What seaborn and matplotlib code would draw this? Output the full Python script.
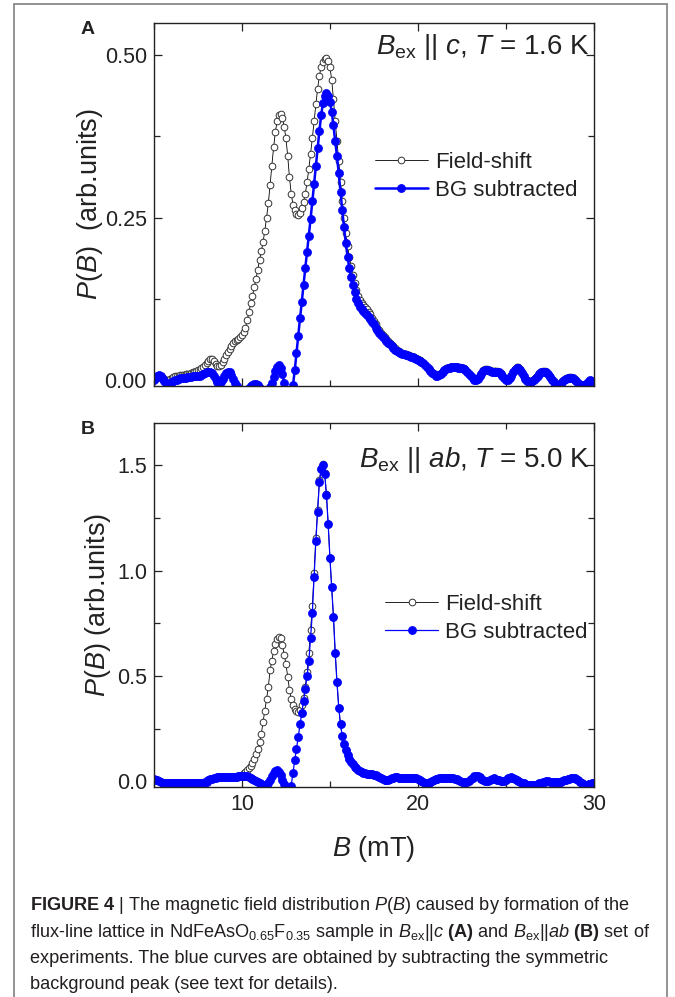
#!/usr/bin/env python
"""Field distribution P(B) in NdFeAsO0.65F0.35: field-shift vs BG-subtracted curves."""

import matplotlib

matplotlib.use("Agg")

import matplotlib.pyplot as plt
import numpy as np
import seaborn as sns
from matplotlib.lines import Line2D
from matplotlib.ticker import FormatStrFormatter, MultipleLocator

# field grid in mT, 0.1 mT steps from 5 to 30
B_MT = np.linspace(5.0, 30.0, 251)

# panel A: B_ex || c, T = 1.6 K
FS_A = [
    0.002, 0.004, 0.006, 0.007, 0.006, 0.004, 0.002, 0.001, 0.001, 0.002,
    0.004, 0.005, 0.006, 0.007, 0.007, 0.008, 0.008, 0.008, 0.009, 0.009,
    0.010, 0.011, 0.012, 0.013, 0.014, 0.015, 0.016, 0.018, 0.021, 0.024,
    0.027, 0.030, 0.032, 0.032, 0.029, 0.025, 0.022, 0.022, 0.024, 0.028,
    0.033, 0.038, 0.043, 0.048, 0.053, 0.057, 0.060, 0.062, 0.064, 0.066,
    0.069, 0.074, 0.081, 0.092, 0.105, 0.118, 0.130, 0.143, 0.156, 0.170,
    0.185, 0.198, 0.212, 0.230, 0.250, 0.272, 0.300, 0.330, 0.358, 0.382,
    0.398, 0.407, 0.409, 0.403, 0.390, 0.372, 0.345, 0.312, 0.287, 0.270,
    0.261, 0.256, 0.254, 0.257, 0.264, 0.274, 0.287, 0.304, 0.325, 0.348,
    0.372, 0.398, 0.424, 0.448, 0.468, 0.482, 0.490, 0.494, 0.495, 0.491,
    0.481, 0.462, 0.432, 0.398, 0.368, 0.337, 0.305, 0.276, 0.250, 0.226,
    0.206, 0.190, 0.176, 0.162, 0.150, 0.139, 0.130, 0.123, 0.118, 0.115,
    0.112, 0.109, 0.105, 0.101, 0.096, 0.091, 0.086, 0.081, 0.077, 0.073,
    0.069, 0.066, 0.063, 0.060, 0.057, 0.054, 0.052, 0.049, 0.047, 0.045,
    0.044, 0.042, 0.041, 0.040, 0.039, 0.038, 0.037, 0.036, 0.035, 0.034,
    0.032, 0.031, 0.029, 0.027, 0.024, 0.021, 0.018, 0.015, 0.012, 0.010,
    0.008, 0.008, 0.009, 0.011, 0.014, 0.016, 0.018, 0.019, 0.020, 0.021,
    0.021, 0.021, 0.021, 0.020, 0.020, 0.019, 0.018, 0.016, 0.013, 0.010,
    0.007, 0.004, 0.002, 0.001, 0.003, 0.007, 0.011, 0.015, 0.017, 0.017,
    0.016, 0.015, 0.014, 0.014, 0.014, 0.014, 0.013, 0.011, 0.008, 0.004,
    0.001, 0.001, 0.004, 0.008, 0.013, 0.017, 0.020, 0.020, 0.017, 0.012,
    0.007, 0.003, 0.000, -0.002, -0.002, -0.001, 0.002, 0.005, 0.008, 0.011,
    0.013, 0.014, 0.014, 0.013, 0.010, 0.006, 0.002, -0.002, -0.005, -0.006,
    -0.006, -0.005, -0.002, 0.001, 0.003, 0.004, 0.005, 0.005, 0.004, 0.002,
    -0.001, -0.004, -0.006, -0.008, -0.008, -0.007, -0.004, -0.002, 0.000, -0.002,
    -0.004,
]
BG_A = [
    0.000, 0.004, 0.007, 0.008, 0.006, 0.002, -0.002, -0.005, -0.006, -0.005,
    -0.003, -0.001, 0.000, 0.001, 0.002, 0.003, 0.004, 0.004, 0.004, 0.005,
    0.005, 0.005, 0.006, 0.006, 0.006, 0.007, 0.007, 0.008, 0.010, 0.011,
    0.012, 0.013, 0.013, 0.011, 0.007, 0.002, -0.003, -0.005, -0.003, 0.002,
    0.007, 0.011, 0.013, 0.012, 0.008, 0.002, -0.004, -0.009, -0.013, -0.016,
    -0.018, -0.018, -0.017, -0.015, -0.012, -0.009, -0.007, -0.006, -0.006, -0.008,
    -0.012, -0.016, -0.019, -0.020, -0.019, -0.016, -0.011, -0.004, 0.005, 0.014,
    0.021, 0.023, 0.019, 0.009, -0.004, -0.017, -0.026, -0.029, -0.024, -0.008,
    0.015, 0.042, 0.068, 0.095, 0.120, 0.147, 0.172, 0.197, 0.222, 0.248,
    0.275, 0.302, 0.330, 0.357, 0.383, 0.407, 0.426, 0.437, 0.441, 0.437,
    0.428, 0.413, 0.392, 0.367, 0.345, 0.318, 0.290, 0.261, 0.235, 0.211,
    0.190, 0.172, 0.158, 0.146, 0.135, 0.125, 0.118, 0.113, 0.109, 0.106,
    0.103, 0.100, 0.097, 0.094, 0.090, 0.086, 0.081, 0.077, 0.073, 0.069,
    0.066, 0.063, 0.060, 0.057, 0.055, 0.052, 0.050, 0.047, 0.045, 0.043,
    0.042, 0.041, 0.040, 0.039, 0.038, 0.037, 0.036, 0.035, 0.034, 0.033,
    0.031, 0.030, 0.028, 0.026, 0.023, 0.020, 0.017, 0.014, 0.011, 0.009,
    0.007, 0.007, 0.008, 0.010, 0.013, 0.015, 0.017, 0.018, 0.019, 0.020,
    0.020, 0.020, 0.020, 0.019, 0.019, 0.018, 0.017, 0.015, 0.012, 0.009,
    0.006, 0.003, 0.001, 0.000, 0.002, 0.006, 0.010, 0.014, 0.016, 0.016,
    0.015, 0.014, 0.013, 0.013, 0.013, 0.013, 0.012, 0.010, 0.007, 0.003,
    0.000, 0.000, 0.003, 0.007, 0.012, 0.016, 0.019, 0.019, 0.016, 0.011,
    0.006, 0.002, -0.001, -0.003, -0.003, -0.002, 0.001, 0.004, 0.007, 0.010,
    0.012, 0.013, 0.013, 0.012, 0.009, 0.005, 0.001, -0.003, -0.006, -0.007,
    -0.007, -0.006, -0.003, 0.000, 0.002, 0.003, 0.004, 0.004, 0.003, 0.001,
    -0.002, -0.005, -0.007, -0.008, -0.008, -0.007, -0.004, -0.002, 0.000, -0.002,
    -0.004,
]

# panel B: B_ex || ab, T = 5.0 K
FS_B = [
    0.010, 0.008, 0.005, 0.002, -0.002, -0.006, -0.009, -0.010, -0.010, -0.010,
    -0.010, -0.010, -0.010, -0.010, -0.010, -0.010, -0.010, -0.010, -0.010, -0.010,
    -0.010, -0.010, -0.010, -0.010, -0.010, -0.010, -0.010, -0.010, -0.008, -0.005,
    -0.001, 0.004, 0.009, 0.013, 0.016, 0.018, 0.019, 0.019, 0.019, 0.019,
    0.019, 0.019, 0.019, 0.019, 0.019, 0.019, 0.020, 0.021, 0.024, 0.027,
    0.032, 0.038, 0.045, 0.053, 0.062, 0.074, 0.088, 0.106, 0.128, 0.155,
    0.185, 0.225, 0.280, 0.335, 0.390, 0.448, 0.527, 0.572, 0.618, 0.652,
    0.675, 0.685, 0.678, 0.648, 0.600, 0.558, 0.497, 0.435, 0.390, 0.362,
    0.345, 0.332, 0.330, 0.337, 0.360, 0.395, 0.450, 0.520, 0.610, 0.720,
    0.830, 0.990, 1.155, 1.290, 1.430, 1.485, 1.505, 1.465, 1.365, 1.222,
    1.060, 0.920, 0.780, 0.610, 0.470, 0.350, 0.270, 0.215, 0.175, 0.148,
    0.127, 0.108, 0.093, 0.081, 0.070, 0.061, 0.054, 0.048, 0.044, 0.040,
    0.038, 0.036, 0.035, 0.034, 0.033, 0.032, 0.030, 0.027, 0.022, 0.015,
    0.010, 0.006, 0.005, 0.007, 0.011, 0.015, 0.018, 0.019, 0.019, 0.018,
    0.017, 0.016, 0.016, 0.015, 0.015, 0.015, 0.015, 0.015, 0.014, 0.014,
    0.012, 0.008, 0.002, -0.004, -0.008, -0.010, -0.008, -0.004, 0.002, 0.007,
    0.011, 0.013, 0.015, 0.015, 0.015, 0.015, 0.014, 0.014, 0.015, 0.015,
    0.014, 0.012, 0.009, 0.005, 0.001, -0.002, -0.004, -0.004, -0.002, 0.003,
    0.010, 0.018, 0.024, 0.027, 0.025, 0.019, 0.011, 0.004, 0.000, 0.000,
    0.003, 0.008, 0.012, 0.014, 0.012, 0.008, 0.004, 0.001, 0.000, 0.002,
    0.008, 0.014, 0.018, 0.019, 0.016, 0.011, 0.005, 0.001, -0.003, -0.006,
    -0.009, -0.012, -0.015, -0.017, -0.018, -0.018, -0.017, -0.015, -0.012, -0.009,
    -0.006, -0.003, -0.001, 0.000, 0.000, -0.001, -0.002, -0.003, -0.004, -0.004,
    -0.003, -0.001, 0.002, 0.005, 0.008, 0.011, 0.013, 0.015, 0.016, 0.015,
    0.011, 0.005, -0.002, -0.009, -0.014, -0.016, -0.016, -0.014, -0.012, -0.010,
    -0.009,
]
BG_B = [
    0.010, 0.008, 0.005, 0.002, -0.002, -0.006, -0.009, -0.010, -0.010, -0.010,
    -0.010, -0.010, -0.010, -0.010, -0.010, -0.010, -0.010, -0.010, -0.010, -0.010,
    -0.010, -0.010, -0.010, -0.010, -0.010, -0.010, -0.010, -0.010, -0.008, -0.005,
    -0.001, 0.004, 0.009, 0.013, 0.016, 0.018, 0.019, 0.019, 0.019, 0.019,
    0.019, 0.019, 0.019, 0.019, 0.019, 0.019, 0.020, 0.021, 0.023, 0.024,
    0.025, 0.026, 0.026, 0.025, 0.022, 0.018, 0.013, 0.008, 0.003, -0.002,
    -0.007, -0.012, -0.016, -0.017, -0.014, -0.006, 0.008, 0.024, 0.039, 0.049,
    0.052, 0.046, 0.030, 0.008, -0.014, -0.032, -0.045, -0.048, -0.020, 0.040,
    0.100, 0.155, 0.210, 0.270, 0.325, 0.380, 0.440, 0.500, 0.570, 0.680,
    0.800, 0.970, 1.140, 1.280, 1.420, 1.480, 1.500, 1.460, 1.360, 1.220,
    1.060, 0.920, 0.780, 0.610, 0.470, 0.350, 0.270, 0.215, 0.175, 0.148,
    0.127, 0.108, 0.093, 0.081, 0.070, 0.061, 0.054, 0.048, 0.044, 0.040,
    0.038, 0.036, 0.035, 0.034, 0.033, 0.032, 0.030, 0.027, 0.022, 0.015,
    0.010, 0.006, 0.005, 0.007, 0.011, 0.015, 0.018, 0.019, 0.019, 0.018,
    0.017, 0.016, 0.016, 0.015, 0.015, 0.015, 0.015, 0.015, 0.014, 0.014,
    0.012, 0.008, 0.002, -0.004, -0.008, -0.010, -0.008, -0.004, 0.002, 0.007,
    0.011, 0.013, 0.015, 0.015, 0.015, 0.015, 0.014, 0.014, 0.015, 0.015,
    0.014, 0.012, 0.009, 0.005, 0.001, -0.002, -0.004, -0.004, -0.002, 0.003,
    0.010, 0.018, 0.024, 0.027, 0.025, 0.019, 0.011, 0.004, 0.000, 0.000,
    0.003, 0.008, 0.012, 0.014, 0.012, 0.008, 0.004, 0.001, 0.000, 0.002,
    0.008, 0.014, 0.018, 0.019, 0.016, 0.011, 0.005, 0.001, -0.003, -0.006,
    -0.009, -0.012, -0.015, -0.017, -0.018, -0.018, -0.017, -0.015, -0.012, -0.009,
    -0.006, -0.003, -0.001, 0.000, 0.000, -0.001, -0.002, -0.003, -0.004, -0.004,
    -0.003, -0.001, 0.002, 0.005, 0.008, 0.011, 0.013, 0.015, 0.016, 0.015,
    0.011, 0.005, -0.002, -0.009, -0.014, -0.016, -0.016, -0.014, -0.012, -0.010,
    -0.009,
]

LABEL_FS = "Field-shift"
LABEL_BG = "BG subtracted"
NOTE_A = r"$B_{\rm ex}$ || $c$, $T$ = 1.6 K"
NOTE_B = r"$B_{\rm ex}$ || $ab$, $T$ = 5.0 K"
CAPTION = [
    r"$\bf{FIGURE\ 4}$ | The magnetic field distribution $P$($B$) caused by formation of the",
    r"flux-line lattice in NdFeAsO$_{0.65}$F$_{0.35}$ sample in $B_{\rm ex}$||$c$ $\bf{(A)}$ and "
    r"$B_{\rm ex}$||$ab$ $\bf{(B)}$ set of",
    "experiments. The blue curves are obtained by subtracting the symmetric",
    "background peak (see text for details).",
]

BLUE = "#0000ff"
INK = "#222222"

sns.set_theme(style="ticks")
plt.rcParams["font.family"] = ["Liberation Sans", "DejaVu Sans"]
plt.rcParams["mathtext.fontset"] = "custom"
plt.rcParams["mathtext.rm"] = "Liberation Sans"
plt.rcParams["mathtext.it"] = "Liberation Sans:italic"
plt.rcParams["mathtext.bf"] = "Liberation Sans:bold"


def draw_panel(ax, fs, bg, blue_lw):
    sns.lineplot(
        x=B_MT, y=fs, ax=ax, estimator=None, sort=False, color="black",
        linewidth=0.6, marker="o", markersize=4.8, markerfacecolor="white",
        markeredgecolor="#333333", markeredgewidth=0.7, label=LABEL_FS,
    )
    sns.lineplot(
        x=B_MT, y=bg, ax=ax, estimator=None, sort=False, color=BLUE,
        linewidth=blue_lw, marker="o", markersize=5.8, markerfacecolor=BLUE,
        markeredgecolor=BLUE, markeredgewidth=0.5, label=LABEL_BG,
    )


def style_axes(ax, ylim, ymajor, fmt):
    ax.set_xlim(5, 30)
    ax.set_ylim(*ylim)
    ax.xaxis.set_major_locator(MultipleLocator(10))
    ax.xaxis.set_minor_locator(MultipleLocator(5))
    ax.yaxis.set_major_locator(MultipleLocator(ymajor))
    ax.yaxis.set_minor_locator(MultipleLocator(ymajor / 2))
    ax.yaxis.set_major_formatter(FormatStrFormatter(fmt))
    ax.tick_params(which="both", direction="in", top=True, right=True,
                   width=0.9, color=INK, labelcolor=INK, labelsize=15.5, pad=5)
    ax.tick_params(which="major", length=6)
    ax.tick_params(which="minor", length=4)
    for sp in ax.spines.values():
        sp.set_linewidth(1.0)
        sp.set_color(INK)


fig = plt.figure(figsize=(6.75, 9.97), dpi=100)
ax_a = fig.add_axes([0.228, 0.6128, 0.652, 0.364])
ax_b = fig.add_axes([0.228, 0.2106, 0.652, 0.365])

draw_panel(ax_a, FS_A, BG_A, 1.8)
draw_panel(ax_b, FS_B, BG_B, 0.9)

style_axes(ax_a, (-0.009, 0.549), 0.25, "%.2f")
style_axes(ax_b, (-0.027, 1.70), 0.5, "%.1f")
ax_a.tick_params(labelbottom=False)

ax_a.set_xlabel("")
ax_a.set_ylabel(r"$P$($B$)  (arb.units)", fontsize=19.5, color=INK)
ax_a.yaxis.set_label_coords(-0.11, 0.5)
ax_b.set_ylabel(r"$P$($B$) (arb.units)", fontsize=19.5, color=INK)
ax_b.yaxis.set_label_coords(-0.093, 0.5)
ax_b.set_xlabel(r"$B$ (mT)", fontsize=19.5, color=INK)
ax_b.xaxis.set_label_coords(0.5, -0.13)

ax_a.text(0.99, 0.934, NOTE_A, transform=ax_a.transAxes, ha="right", va="center",
          fontsize=20, color=INK)
ax_b.text(0.99, 0.898, NOTE_B, transform=ax_b.transAxes, ha="right", va="center",
          fontsize=20, color=INK)

for ax, anchor in ((ax_a, (0.502, 0.645)), (ax_b, (0.525, 0.53))):
    handles, labels = ax.get_legend_handles_labels()
    ax.legend(handles, labels, loc="upper left", bbox_to_anchor=anchor, frameon=False,
              fontsize=16, handlelength=2.4, handletextpad=0.3, labelspacing=0.32,
              borderpad=0, borderaxespad=0, labelcolor=INK)

fig.text(88 / 675, 1 - 30 / 997, "A", fontsize=14, fontweight="bold", color=INK,
         ha="center", va="center")
fig.text(88 / 675, 1 - 430 / 997, "B", fontsize=14, fontweight="bold", color=INK,
         ha="center", va="center")

# caption underneath, inside the grey frame
for i, line in enumerate(CAPTION):
    fig.text(30 / 675, 1 - (906 + 26.3 * i) / 997, line, fontsize=13.1, color="#231f20",
             ha="left", va="center")

frame = dict(color="#8a8a8a", linewidth=1.3, transform=fig.transFigure)
fig.add_artist(Line2D([14 / 675, 14 / 675], [0, 1 - 4 / 997], **frame))
fig.add_artist(Line2D([667 / 675, 667 / 675], [0, 1 - 4 / 997], **frame))
fig.add_artist(Line2D([14 / 675, 667 / 675], [1 - 4 / 997, 1 - 4 / 997], **frame))

fig.savefig("out.png", dpi=100)
